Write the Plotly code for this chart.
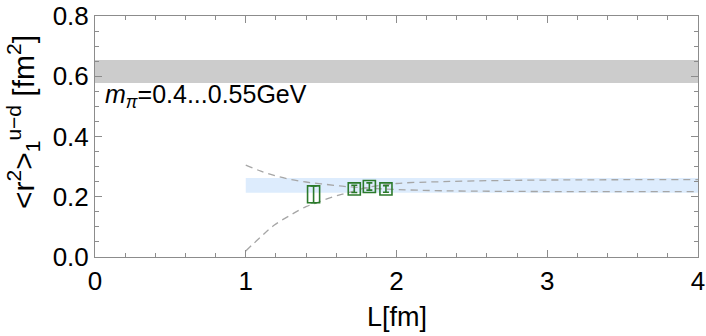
import plotly.graph_objects as go

# lattice points
L_pts = [1.45, 1.72, 1.82, 1.93]
r2_pts = [0.208, 0.226, 0.234, 0.226]
r2_err = [0.028, 0.012, 0.012, 0.011]

# experimental band (gray) and infinite-volume fit band (blue)
exp_lo, exp_hi = 0.578, 0.654
fit_lo, fit_hi = 0.213, 0.262
fit_L = [1.0, 4.0]

# finite-volume curves
curve_down_L = [1.0, 1.1, 1.2, 1.3, 1.4, 1.5, 1.64, 1.8, 2.0, 2.3, 2.7, 3.2, 4.0]
curve_down_r = [0.305, 0.285, 0.269, 0.257, 0.249, 0.243, 0.235, 0.229, 0.224, 0.220, 0.218, 0.217, 0.217]
curve_up_L = [1.0, 1.1, 1.19, 1.3, 1.4, 1.47, 1.58, 1.67, 1.8, 2.0, 2.3, 2.7, 3.2, 4.0]
curve_up_r = [0.02, 0.067, 0.106, 0.14, 0.167, 0.18, 0.20, 0.212, 0.230, 0.244, 0.25, 0.254, 0.256, 0.257]

green = '#2b7a2b'
axis_gray = '#8c8c8c'
font = 'Liberation Sans, Arial, Helvetica, sans-serif'

fig = go.Figure()

# gray band across the whole range
fig.add_trace(go.Scatter(x=[0, 4, 4, 0], y=[exp_lo, exp_lo, exp_hi, exp_hi], fill='toself',
                         fillcolor='#cccccc', line=dict(width=0), mode='lines',
                         hoverinfo='skip', showlegend=False))

# blue fit band
fig.add_trace(go.Scatter(x=[fit_L[0], fit_L[1], fit_L[1], fit_L[0]], y=[fit_lo, fit_lo, fit_hi, fit_hi],
                         fill='toself', fillcolor='#ddecfd', line=dict(width=0), mode='lines',
                         hoverinfo='skip', showlegend=False))

for xs, ys in [(curve_down_L, curve_down_r), (curve_up_L, curve_up_r)]:
    fig.add_trace(go.Scatter(x=xs, y=ys, mode='lines',
                             line=dict(color='#a6a6a6', width=1.3, dash='7px,5px', shape='spline'),
                             hoverinfo='skip', showlegend=False))

# open boxes around each point
for L, r, e in zip(L_pts, r2_pts, r2_err):
    h = max(e, 0.02)
    fig.add_shape(type='rect', xref='x', yref='y', x0=L - 0.04, x1=L + 0.04, y0=r - h, y1=r + h,
                  line=dict(color=green, width=1.6), fillcolor='rgba(0,0,0,0)')

fig.add_trace(go.Scatter(x=L_pts, y=r2_pts, mode='markers',
                         marker=dict(size=1, color=green, opacity=0),
                         error_y=dict(type='data', array=r2_err, color=green, thickness=1.6, width=3),
                         showlegend=False))

fig.add_annotation(x=0.05, y=0.535, xref='x', yref='y', showarrow=False, xanchor='left', yanchor='middle',
                   text='<i>m</i><sub><i>\u03c0</i></sub>=0.4...0.55GeV',
                   font=dict(family=font, size=25, color='black'))

# axis titles as annotations so the margins stay fixed
fig.add_annotation(x=0, y=0.56, xref='paper', yref='paper', xshift=-72, showarrow=False,
                   xanchor='center', yanchor='middle', textangle=-90,
                   text='<r<sup>2</sup>><sub>1</sub><sup>u\u2212d</sup> [fm<sup>2</sup>]',
                   font=dict(family=font, size=30, color='black'))
fig.add_annotation(x=0.5, y=-0.25, xref='paper', yref='paper', showarrow=False,
                   xanchor='center', yanchor='middle', text='L[fm]',
                   font=dict(family=font, size=27, color='black'))

axis_common = dict(showline=True, linecolor=axis_gray, linewidth=1, mirror='ticks', ticks='inside',
                   tickcolor=axis_gray, ticklen=7, showgrid=False, zeroline=False, automargin=False,
                   tickfont=dict(family=font, size=26, color='black'))

fig.update_xaxes(range=[0, 4], dtick=1, tick0=0, ticklabelstandoff=1,
                 minor=dict(dtick=0.2, ticks='inside', ticklen=4, tickcolor=axis_gray, showgrid=False),
                 **axis_common)
fig.update_yaxes(range=[0, 0.8], dtick=0.2, tick0=0, tickformat='.1f',
                 minor=dict(dtick=0.05, ticks='inside', ticklen=4, tickcolor=axis_gray, showgrid=False),
                 **axis_common)

fig.update_layout(width=706, height=336, margin=dict(l=95, r=8, t=16, b=79),
                  paper_bgcolor='white', plot_bgcolor='white', showlegend=False)

# drop the default 8px page margin so the figure fills the window
fig.write_html('out.html', config={'displayModeBar': False},
               post_script="document.body.style.margin='0px';")
